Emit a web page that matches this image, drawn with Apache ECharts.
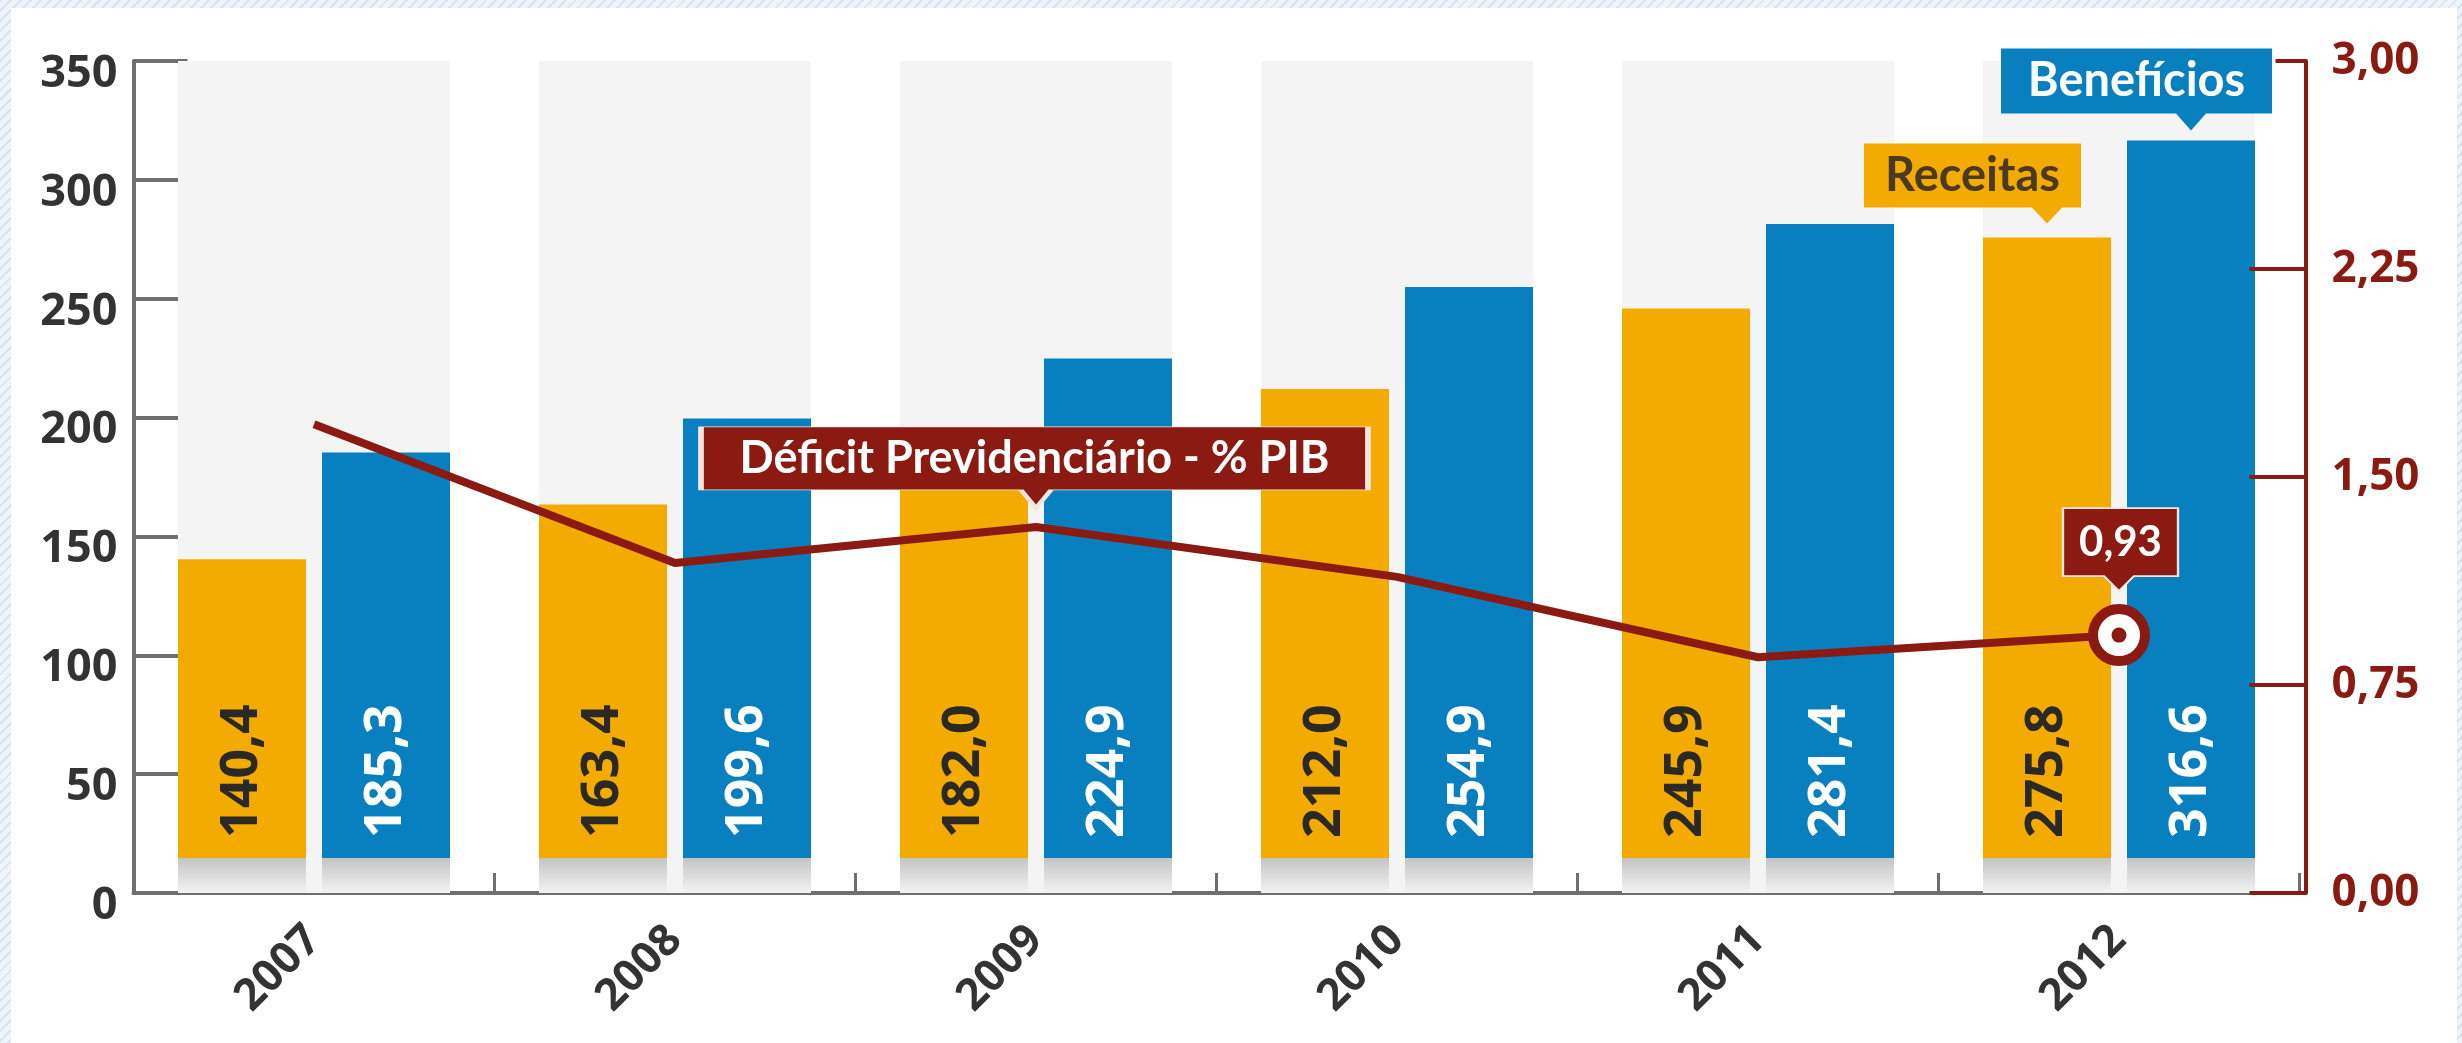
<!DOCTYPE html>
<html><head><meta charset="utf-8">
<script src="https://cdn.jsdelivr.net/npm/echarts@6/dist/echarts.min.js"></script>
<style>
html,body{margin:0;padding:0;width:2462px;height:1043px;overflow:hidden;}
body{background:repeating-linear-gradient(135deg,#d3e4f2 0 2px,#f0f4f8 2px 7px);}
#panel{position:absolute;left:11px;top:8px;width:2446px;height:1035px;background:#fff;}
#chart{position:absolute;left:0;top:0;width:2462px;height:1043px;}
</style></head><body><div id="panel"></div><div id="chart"></div>
<script>
// ---- data ----
const categories = ['2007', '2008', '2009', '2010', '2011', '2012'];
const receitas   = [140.4, 163.4, 182.0, 212.0, 245.9, 275.8];
const beneficios = [185.3, 199.6, 224.9, 254.9, 281.4, 316.6];
const deficit    = [1.69, 1.19, 1.32, 1.14, 0.85, 0.93];
const leftAxis   = { min: 0, max: 350, step: 50 };
const rightAxis  = { min: 0, max: 3, step: 0.75 };
const names = { receitas: 'Receitas', beneficios: 'Benefícios', deficit: 'Déficit Previdenciário - % PIB' };

// ---- styles ----
const ORANGE = '#f4ab00', BLUE = '#0880c0', RED = '#8a1a12', GRAY = '#6f6f6f';
const FONT = 'Lato';
const NUMFONT = 'Open Sans';
const SHADOW_UNITS = 14.7;
const comma = (v, d) => v.toFixed(d).replace('.', ',');

function barColor(base, v) {
  const s = Math.max(0, 1 - SHADOW_UNITS / v);
  return new echarts.graphic.LinearGradient(0, 0, 0, 1, [
    { offset: 0, color: base }, { offset: s, color: base },
    { offset: s, color: '#c4c4c4' }, { offset: 1, color: '#f3f3f3' }
  ]);
}
function callout(w, h, tip, px, hb, gap) {
  return {
    symbol: `path://M0,0 H${w} V${h} H${px + hb} L${px},${h + tip} L${px - hb},${h} H0 Z`,
    symbolSize: [w, h + tip],
    symbolOffset: [w / 2 - px, -(h + tip) / 2 - gap],
    labelOffset: [0, -tip / 2]
  };
}
function calloutPoint(coord, c, text, fill, textColor, fontSize, border) {
  return {
    coord: coord,
    symbol: c.symbol, symbolSize: c.symbolSize, symbolKeepAspect: false, symbolOffset: c.symbolOffset,
    itemStyle: { color: fill, borderColor: border ? '#f3e6e0' : fill, borderWidth: border ? 2 : 0 },
    label: { show: true, position: 'inside', offset: c.labelOffset, formatter: text,
      color: textColor, fontFamily: FONT, fontWeight: 'bold', fontSize: fontSize }
  };
}

const barLabel = (color) => ({
  show: true, position: 'insideBottom', distance: 55, rotate: 90,
  align: 'left', verticalAlign: 'middle',
  formatter: p => comma(p.value, 1),
  color: color, fontFamily: NUMFONT, fontWeight: 'bold', fontSize: 52
});

const chart = echarts.init(document.getElementById('chart'), null, { renderer: 'canvas' });
const last = categories.length - 1;

const option = {
  animation: false,
  backgroundColor: 'transparent',
  grid: { left: 133.5, right: 162.5, top: 61, bottom: 150, containLabel: false },
  xAxis: [
    {
      type: 'category', data: categories,
      axisLine: { lineStyle: { color: GRAY, width: 4 } },
      axisTick: { show: true, inside: true, length: 20, lineStyle: { color: GRAY, width: 3 } },
      axisLabel: { interval: 0, rotate: 45, margin: 40, color: '#333', fontFamily: NUMFONT, fontWeight: 'bold', fontSize: 44 },
      splitLine: { show: false }
    },
    { type: 'category', data: categories, show: false }
  ],
  yAxis: [
    {
      type: 'value', position: 'left', min: leftAxis.min, max: leftAxis.max, interval: leftAxis.step,
      axisLine: { show: true, lineStyle: { color: GRAY, width: 4 } },
      axisTick: { show: true, inside: true, length: 54, lineStyle: { color: GRAY, width: 4 } },
      axisLabel: { margin: 16, color: '#333', fontFamily: NUMFONT, fontWeight: 'bold', fontSize: 45,
        verticalAlign: 'top', lineHeight: 26 },
      splitLine: { show: false }
    },
    {
      type: 'value', position: 'right', offset: 6, z: 5,
      min: rightAxis.min, max: rightAxis.max, interval: rightAxis.step,
      axisLine: { show: true, lineStyle: { color: RED, width: 4 } },
      axisTick: { show: true, inside: true, length: 56, lineStyle: { color: RED, width: 4 },
        customValues: [0, 0.75, 1.5, 2.25] },
      axisLabel: { margin: 26, color: RED, fontFamily: NUMFONT, fontWeight: 'bold', fontSize: 44,
        formatter: v => comma(v, 2) },
      splitLine: { show: false }
    },
    {
      type: 'value', position: 'right', offset: 6, z: 5,
      min: rightAxis.min, max: rightAxis.max, interval: rightAxis.step,
      axisLine: { show: false },
      axisTick: { show: true, inside: true, length: 30, lineStyle: { color: RED, width: 4 }, customValues: [rightAxis.max] },
      axisLabel: { show: false },
      splitLine: { show: false }
    }
  ],
  series: [
    {
      name: 'fundo', type: 'bar', xAxisIndex: 1, yAxisIndex: 0, z: 1, silent: true,
      barWidth: 272, data: categories.map(() => leftAxis.max),
      itemStyle: { color: '#f4f4f4' }, emphasis: { disabled: true }
    },
    {
      name: names.receitas, type: 'bar', xAxisIndex: 0, yAxisIndex: 0, z: 2, silent: true,
      barWidth: 128, barGap: '12.5%',
      data: receitas.map(v => ({ value: v, itemStyle: { color: barColor(ORANGE, v) } })),
      label: barLabel('#2b2925'), emphasis: { disabled: true },
      markPoint: {
        silent: true, animation: false,
        data: [calloutPoint([categories[last], receitas[last]], callout(217, 64, 16, 183, 15, 14),
          names.receitas, ORANGE, '#4a3a22', 47, false)]
      }
    },
    {
      name: names.beneficios, type: 'bar', xAxisIndex: 0, yAxisIndex: 0, z: 2, silent: true,
      barWidth: 128, barGap: '12.5%',
      data: beneficios.map(v => ({ value: v, itemStyle: { color: barColor(BLUE, v) } })),
      label: barLabel('#ffffff'), emphasis: { disabled: true },
      markPoint: {
        silent: true, animation: false,
        data: [calloutPoint([categories[last], beneficios[last]], callout(271, 65, 17, 190, 15, 10),
          names.beneficios, BLUE, '#ffffff', 47, false)]
      }
    },
    {
      name: names.deficit, type: 'line', xAxisIndex: 0, yAxisIndex: 1, z: 4, silent: true,
      showSymbol: true, symbol: 'none',
      lineStyle: { color: RED, width: 8 },
      itemStyle: { color: RED },
      data: deficit.map((v, i) => i === last
        ? { value: v, symbol: 'circle', symbolSize: 52, itemStyle: { color: '#ffffff', borderColor: RED, borderWidth: 10 } }
        : { value: v }),
      emphasis: { disabled: true },
      markPoint: {
        silent: true, animation: false,
        data: [
          calloutPoint([categories[2], deficit[2]], callout(667, 63, 18, 335, 15, 19),
            names.deficit, RED, '#ffffff', 45, true),
          calloutPoint([categories[last], deficit[last]], callout(115, 68, 15, 56, 15, 44),
            comma(deficit[last], 2), RED, '#ffffff', 42, true),
          { coord: [categories[last], deficit[last]], symbol: 'circle', symbolSize: 15,
            itemStyle: { color: RED }, label: { show: false } }
        ]
      }
    }
  ]
};
chart.setOption(option);
</script>
</body></html>
